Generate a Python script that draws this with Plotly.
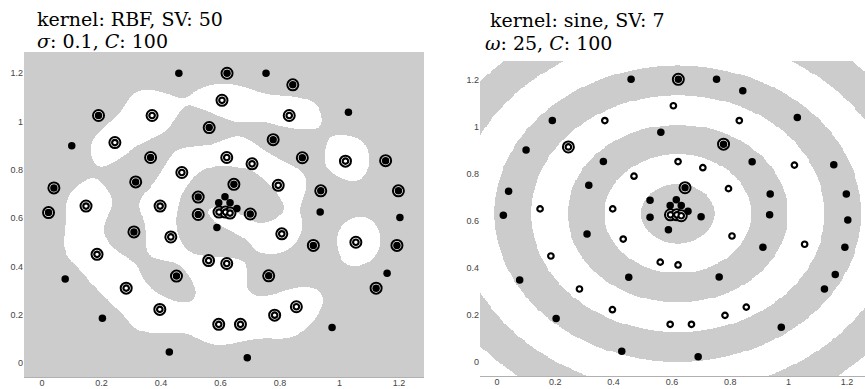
import numpy as np
import plotly.graph_objects as go

# ---------------- data ----------------
# class A: filled black points
a_x = [0.46, 0.19, 0.10, 0.365, 0.315, 0.040, 0.022, 0.525, 0.525, 0.622, 0.753, 0.843,
       1.03, 0.562, 0.777, 0.875, 1.155, 0.645, 0.937, 1.198, 0.935, 1.203, 0.70, 0.912,
       1.193, 0.762, 1.16, 1.123, 0.975, 0.69, 0.588, 0.309, 0.078, 0.452, 0.203, 0.428,
       0.615, 0.594, 0.632, 0.655]
a_y = [1.20, 1.025, 0.90, 0.851, 0.750, 0.725, 0.623, 0.687, 0.615, 1.200, 1.200, 1.152,
       1.038, 0.975, 0.925, 0.850, 0.838, 0.740, 0.713, 0.713, 0.625, 0.603, 0.617, 0.487,
       0.487, 0.361, 0.372, 0.310, 0.147, 0.022, 0.561, 0.543, 0.348, 0.360, 0.185, 0.046,
       0.689, 0.664, 0.664, 0.640]
a_sv_rbf = [0, 1, 0, 1, 1, 1, 1, 1, 1, 1, 0, 1,
            0, 1, 1, 1, 1, 1, 1, 1, 0, 0, 1, 1,
            1, 1, 0, 1, 0, 0, 0, 1, 0, 1, 0, 0,
            0, 0, 0, 0]
a_sv_sin = [0, 0, 0, 0, 0, 0, 0, 0, 0, 1, 0, 0,
            0, 0, 1, 0, 0, 1, 0, 0, 0, 0, 0, 0,
            0, 0, 0, 0, 0, 0, 0, 0, 0, 0, 0, 0,
            0, 0, 0, 0]

# class B: hollow points
b_x = [0.37, 0.245, 0.47, 0.148, 0.397, 0.605, 0.831, 1.02, 0.621, 0.706, 0.794, 0.806,
       1.055, 0.56, 0.621, 0.855, 0.782, 0.594, 0.667, 0.433, 0.185, 0.283, 0.396,
       0.595, 0.617, 0.632]
b_y = [1.025, 0.913, 0.789, 0.650, 0.650, 1.088, 1.025, 0.836, 0.851, 0.825, 0.736, 0.535,
       0.500, 0.424, 0.412, 0.233, 0.198, 0.160, 0.160, 0.522, 0.450, 0.310, 0.222,
       0.625, 0.625, 0.621]
b_sv_rbf = [1] * 26
b_sv_sin = [0, 1, 0, 0, 0, 0, 0, 0, 0, 0, 0, 0,
            0, 0, 0, 0, 0, 0, 0, 0, 0, 0, 0,
            1, 1, 1]

tick_vals = [0, 0.2, 0.4, 0.6, 0.8, 1.0, 1.2]
tick_text = ["0", "0.2", "0.4", "0.6", "0.8", "1", "1.2"]

rbf_sigma = 0.1
kernel_width = 0.12    # effective Gaussian width matching the drawn regions
svm_C = 100.0
sine_omega = 25.0
ring_center = (0.62, 0.63)

GRAY = "#cccccc"

# ---------------- RBF SVM (SMO with bias) ----------------
X = np.column_stack([np.r_[a_x, b_x], np.r_[a_y, b_y]])
Y = np.r_[np.ones(len(a_x)), -np.ones(len(b_x))]


def rbf(P, Q, s):
    d2 = ((P[:, None, :] - Q[None, :, :]) ** 2).sum(-1)
    return np.exp(-d2 / (s * s))


def smo(K, y, C, eps=1e-4, max_iter=200000):
    n = len(y)
    Q = np.outer(y, y) * K
    al = np.zeros(n)
    G = -np.ones(n)
    for _ in range(max_iter):
        up = ((y > 0) & (al < C)) | ((y < 0) & (al > 0))
        lo = ((y < 0) & (al < C)) | ((y > 0) & (al > 0))
        v = -y * G
        vu = np.where(up, v, -np.inf)
        vl = np.where(lo, v, np.inf)
        i = int(np.argmax(vu))
        j = int(np.argmin(vl))
        if vu[i] - vl[j] < eps:
            break
        ai, aj = al[i], al[j]
        if y[i] != y[j]:
            quad = max(Q[i, i] + Q[j, j] + 2 * Q[i, j], 1e-12)
            delta = (-G[i] - G[j]) / quad
            diff = al[i] - al[j]
            al[i] += delta
            al[j] += delta
            if diff > 0:
                if al[j] < 0:
                    al[j] = 0
                    al[i] = diff
            else:
                if al[i] < 0:
                    al[i] = 0
                    al[j] = -diff
            if diff > 0:
                if al[i] > C:
                    al[i] = C
                    al[j] = C - diff
            else:
                if al[j] > C:
                    al[j] = C
                    al[i] = C + diff
        else:
            quad = max(Q[i, i] + Q[j, j] - 2 * Q[i, j], 1e-12)
            delta = (G[i] - G[j]) / quad
            s = al[i] + al[j]
            al[i] -= delta
            al[j] += delta
            if s > C:
                if al[i] > C:
                    al[i] = C
                    al[j] = s - C
            else:
                if al[j] < 0:
                    al[j] = 0
                    al[i] = s
            if s > C:
                if al[j] > C:
                    al[j] = C
                    al[i] = s - C
            else:
                if al[i] < 0:
                    al[i] = 0
                    al[j] = s
        G += Q[:, i] * (al[i] - ai) + Q[:, j] * (al[j] - aj)
    free = (al > 1e-8) & (al < C - 1e-8)
    if free.any():
        rho = float(np.mean((y * G)[free]))
    else:
        rho = 0.0
    return al, rho


K = rbf(X, X, kernel_width)
alpha, rho = smo(K, Y, svm_C)

L_xr = [-0.0605, 1.284]
L_yr = [-0.058, 1.288]
gx = np.linspace(L_xr[0], L_xr[1], 420)
gy = np.linspace(L_yr[0], L_yr[1], 340)
GX, GY = np.meshgrid(gx, gy)
Gp = np.column_stack([GX.ravel(), GY.ravel()])
f = (rbf(Gp, X, kernel_width) @ (alpha * Y) - rho).reshape(GX.shape)
z_left = (f > 0).astype(float)

# ---------------- sine kernel regions ----------------
R_xr = [-0.058, 1.262]
R_yr = [-0.0595, 1.278]
hx = np.linspace(R_xr[0], R_xr[1], 420)
hy = np.linspace(R_yr[0], R_yr[1], 340)
HX, HY = np.meshgrid(hx, hy)
r = np.hypot(HX - ring_center[0], HY - ring_center[1])
z_right = (np.sin(sine_omega * r) > 0).astype(float)

# ---------------- figure ----------------
fig = go.Figure()
cs = [[0, "#ffffff"], [1, GRAY]]
fig.add_trace(go.Heatmap(x=gx, y=gy, z=z_left, colorscale=cs, zmin=0, zmax=1,
                         showscale=False, hoverinfo="skip", xaxis="x", yaxis="y"))
fig.add_trace(go.Heatmap(x=hx, y=hy, z=z_right, colorscale=cs, zmin=0, zmax=1,
                         showscale=False, hoverinfo="skip", xaxis="x2", yaxis="y2"))


def sel(xs, ys, flags):
    return ([x for x, f_ in zip(xs, flags) if f_], [y for y, f_ in zip(ys, flags) if f_])


ring = dict(symbol="circle", size=11, color="white", line=dict(color="black", width=2))
dot = dict(symbol="circle", size=7.5, color="black", line=dict(width=0))
hollow = dict(symbol="circle", size=5.5, color="white", line=dict(color="black", width=2.2))

for ax, ay, sva, svb in (("x", "y", a_sv_rbf, b_sv_rbf), ("x2", "y2", a_sv_sin, b_sv_sin)):
    sx1, sy1 = sel(a_x, a_y, sva)
    sx2, sy2 = sel(b_x, b_y, svb)
    fig.add_trace(go.Scatter(x=sx1 + sx2, y=sy1 + sy2, mode="markers", marker=ring,
                             xaxis=ax, yaxis=ay, hoverinfo="skip"))
    fig.add_trace(go.Scatter(x=a_x, y=a_y, mode="markers", marker=dot,
                             xaxis=ax, yaxis=ay, hoverinfo="skip"))
    fig.add_trace(go.Scatter(x=b_x, y=b_y, mode="markers", marker=hollow,
                             xaxis=ax, yaxis=ay, hoverinfo="skip"))

W, H = 865, 389
tickfont = dict(family="Liberation Sans, Arial", size=9, color="#444")
xa = dict(tickvals=tick_vals, ticktext=tick_text, showgrid=False, zeroline=False,
          showline=True, linecolor="#b0b0b0", linewidth=1, ticks="", tickfont=tickfont,
          automargin=False, ticklabelstandoff=-3)
ya = dict(tickvals=tick_vals, ticktext=tick_text, showgrid=False, zeroline=False,
          showline=False, ticks="", tickfont=tickfont, automargin=False)

fig.update_layout(
    width=W, height=H, margin=dict(l=0, r=0, t=0, b=0),
    paper_bgcolor="white", plot_bgcolor="white", showlegend=False,
    xaxis=dict(xa, domain=[24 / W, 424 / W], range=L_xr, anchor="y"),
    yaxis=dict(ya, domain=[(H - 377) / H, (H - 52) / H], range=L_yr, anchor="x"),
    xaxis2=dict(xa, domain=[480 / W, 1.0], range=R_xr, anchor="y2"),
    yaxis2=dict(ya, domain=[(H - 376) / H, (H - 61) / H], range=R_yr, anchor="x2"),
)

tfont = dict(family="DejaVu Serif", size=19, color="black")
titles = [
    ("kernel: RBF, SV: 50", 35, 19),
    ("<i>σ</i>: 0.1, <i>C</i>: 100", 35, 41),
    ("kernel: sine, SV: 7", 488, 19.5),
    ("<i>ω</i>: 25, <i>C</i>: 100", 483, 42.5),
]
for txt, px, py in titles:
    fig.add_annotation(text=txt, xref="paper", yref="paper", x=px / W, y=1 - py / H,
                       xanchor="left", yanchor="middle", showarrow=False, font=tfont)

fig.write_html("out.html")
